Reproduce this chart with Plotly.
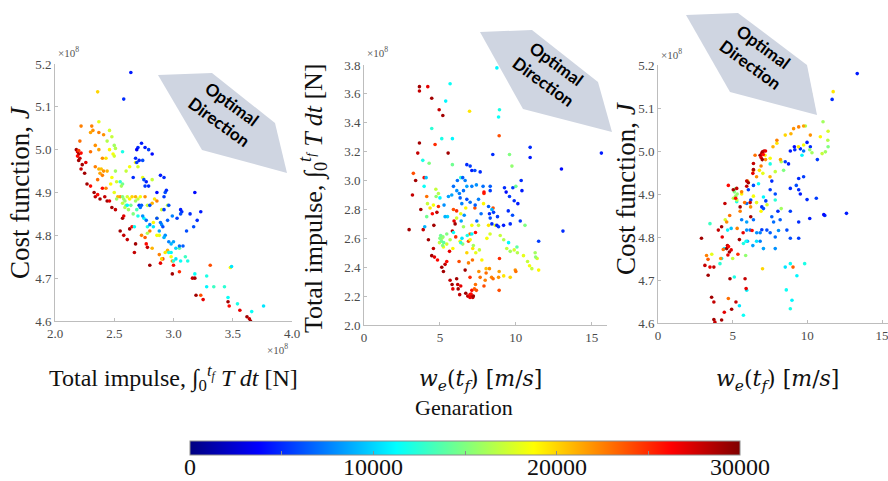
import plotly.graph_objects as go

W, H = 888, 481

# ---- Panel 1: total impulse (x1e8 N) vs cost function J (x1e8), coloured by generation
p1_impulse = [
    2.18, 2.19, 2.20, 2.19, 2.21, 2.20, 2.22, 2.23, 2.22, 2.25, 2.26, 2.27, 2.30, 2.33, 2.34, 2.36, 2.38, 2.40,
    2.42, 2.44, 2.46, 2.48, 2.51, 2.57, 2.58, 2.55, 2.58, 2.63, 2.65, 2.61, 2.68, 2.67, 2.77, 2.78, 2.80, 2.89,
    2.91, 2.99, 3.00, 3.05, 3.16, 3.18, 3.19, 3.23, 3.25, 3.31, 3.46, 3.47, 3.56, 3.62, 3.64, 3.65,
    2.36, 2.37, 2.22, 2.31, 2.32, 2.30, 2.46, 2.48, 2.41, 2.37, 2.44, 2.50, 2.51, 2.21, 2.34, 2.37, 2.46, 2.49,
    2.50, 2.43, 2.40, 2.30, 2.20, 2.34, 2.37, 2.39, 2.38, 2.41, 2.44, 2.40, 2.36, 2.51, 2.48, 2.43, 2.47, 2.50,
    2.52, 2.55, 2.53, 2.60, 2.63, 2.68, 2.70, 2.74, 2.82,
    2.57, 2.58, 2.59, 2.57, 2.60, 2.59, 2.61, 2.52, 2.63, 2.65, 2.68, 2.70, 2.72, 2.68, 2.64, 2.62, 2.66, 2.69,
    2.76, 2.78, 2.82, 2.84, 2.86, 2.90, 2.95, 2.83, 2.86, 2.80, 2.82, 2.73, 2.76, 2.88, 2.93, 2.95, 2.90, 2.88,
    2.98, 2.99, 3.05, 3.48, 2.78, 2.86, 2.57, 2.56,
    2.57, 2.55, 2.67, 2.75, 2.78, 2.83, 2.98, 3.00, 3.02, 3.06, 3.10, 3.12, 3.18, 3.28, 3.28, 3.34, 3.43, 3.46,
    3.49, 3.54, 3.66, 3.76, 2.96, 3.02, 2.61, 2.70,
    2.64, 2.58, 2.73, 2.70, 2.69, 2.76, 2.79, 2.82, 2.68, 2.71, 2.74, 2.69, 2.66, 2.75, 2.77, 2.76, 2.79, 2.89,
    2.92, 2.86, 2.93, 2.94, 2.92, 2.71, 2.73, 2.72, 2.80, 2.92, 2.96, 3.06, 3.07, 3.06, 3.14, 3.18, 3.23, 3.20,
    3.17, 3.03, 2.99, 2.95, 2.90, 2.89, 2.91, 2.88, 3.11, 2.93, 2.92, 2.96, 3.00, 3.05, 3.08, 2.98, 2.86, 2.80,
    2.74, 2.77,
]
p1_cost = [
    5.000, 4.995, 4.990, 4.985, 4.980, 4.975, 4.992, 4.965, 4.955, 4.945, 4.970, 4.920, 4.915, 4.900, 4.890,
    4.895, 4.885, 4.910, 4.890, 4.880, 4.880, 4.865, 4.860, 4.840, 4.845, 4.810, 4.800, 4.815, 4.820, 4.790,
    4.780, 4.760, 4.780, 4.772, 4.730, 4.735, 4.745, 4.710, 4.730, 4.715, 4.700, 4.700, 4.660, 4.660, 4.650,
    4.730, 4.645, 4.635, 4.625, 4.610, 4.605, 4.600,
    5.135, 5.065, 5.055, 5.055, 5.045, 5.040, 5.045, 5.030, 5.035, 5.040, 5.020, 5.010, 5.003, 5.020, 5.010,
    5.000, 5.000, 4.990, 4.985, 4.980, 4.980, 4.995, 4.998, 4.960, 4.955, 4.955, 4.945, 4.950, 4.950, 4.940,
    4.930, 4.950, 4.935, 4.910, 4.920, 4.900, 4.925, 4.890, 4.890, 4.950, 4.960, 4.970, 4.960, 4.935, 4.930,
    4.890, 4.885, 4.880, 4.875, 4.870, 4.865, 4.890, 4.885, 4.885, 4.890, 4.890, 4.885, 4.890, 4.880, 4.870,
    4.860, 4.850, 4.860, 4.890, 4.870, 4.875, 4.885, 4.880, 4.860, 4.870, 4.830, 4.840, 4.810, 4.770, 4.800,
    4.795, 4.800, 4.760, 4.765, 4.745, 4.755, 4.750, 4.740, 4.770, 4.725, 4.805, 4.800, 4.920, 4.915,
    4.995, 4.925, 4.820, 4.840, 4.820, 4.820, 4.760, 4.740, 4.770, 4.740, 4.750, 4.740, 4.710, 4.705, 4.680,
    4.680, 4.680, 4.655, 4.727, 4.640, 4.622, 4.635, 4.760, 4.745, 4.870, 4.845,
    5.180, 5.118, 5.015, 5.005, 5.000, 5.005, 5.000, 4.990, 4.980, 4.975, 4.975, 4.970, 4.935, 4.930, 4.925,
    4.915, 4.915, 4.940, 4.935, 4.900, 4.900, 4.905, 4.890, 4.870, 4.870, 4.865, 4.870, 4.860, 4.870, 4.860,
    4.855, 4.850, 4.850, 4.900, 4.855, 4.835, 4.820, 4.840, 4.845, 4.835, 4.825, 4.830, 4.820, 4.810, 4.810,
    4.800, 4.795, 4.785, 4.785, 4.775, 4.775, 4.780, 4.840, 4.825, 4.845, 4.835,
]
p1_gen = [
    29000, 27000, 29000, 26000, 28000, 29000, 26000, 29000, 28000, 29000, 27000, 29000, 26000, 29000, 28000,
    26000, 29000, 26000, 28000, 29000, 27000, 29000, 28000, 29000, 27000, 29000, 28000, 29000, 26000, 28000,
    29000, 28000, 26000, 28000, 29000, 27000, 25000, 29000, 26000, 25000, 28000, 29000, 29000, 24000, 27000,
    24000, 29000, 26000, 27000, 29000, 28000, 29000,
    20000, 18000, 22500, 22500, 22000, 21500, 17500, 17000, 22000, 22500, 16500, 16000, 16500, 23000, 22000,
    21500, 19000, 18500, 17500, 19500, 22000, 23000, 24500, 22500, 21000, 20500, 21500, 22000, 21000, 22500,
    23000, 16000, 18500, 22500, 19000, 18000, 17500, 22000, 21000, 17000, 18500, 19000, 17500, 18000, 17000,
    15000, 16000, 15500, 17000, 15000, 16500, 17500, 16000, 19000, 20000, 21000, 17000, 18500, 16000, 14500,
    16000, 15000, 13500, 22000, 17000, 21000, 19500, 22500, 17500, 16500, 19000, 17500, 22500, 21000, 22500,
    23500, 18000, 19500, 21000, 20000, 22500, 18500, 22000, 14000, 19000, 16500, 18500, 14500, 16000,
    12000, 12500, 11500, 11000, 12000, 10500, 11000, 12500, 10000, 11500, 13000, 12000, 11500, 12000, 11000,
    13000, 12500, 11500, 10500, 12000, 11500, 10500, 12000, 10500, 11000, 12000,
    4500, 5000, 4500, 5000, 3500, 4500, 5500, 4000, 5000, 4500, 6000, 5500, 5000, 6000, 4500,
    5500, 5000, 4500, 5000, 4000, 6000, 5000, 5500, 5000, 6500, 7000, 6000, 5500, 6000, 4500,
    5000, 6000, 5000, 4000, 4500, 5000, 6000, 5500, 7500, 6500, 8000, 7000, 6000, 8500, 6000,
    8000, 9000, 7500, 8500, 7000, 6500, 9000, 6000, 7500, 8000, 7000,
]

# ---- Panel 2: exhaust-velocity error w_e(t_f) [m/s] vs total impulse (x1e8 N)
p2_we = [
    2.97, 3.65, 3.65, 4.20, 4.46, 4.95, 5.19, 3.65, 3.54, 3.40, 3.19, 3.74, 3.90, 4.60, 4.80, 4.50, 4.24, 4.57,
    4.46, 4.64, 4.84, 5.12, 5.34, 5.23, 5.67, 5.80, 5.85, 6.10, 6.17, 6.20, 6.30, 6.37, 6.70, 6.83, 6.98, 7.10,
    7.16, 6.98, 7.20, 7.05, 6.66, 5.82, 5.93, 6.00, 5.54, 4.68, 3.25, 3.96, 4.13, 4.90, 5.89, 6.10, 7.30, 7.90,
    7.90, 8.50, 8.90, 7.90, 8.04, 8.40, 8.50, 8.86, 8.90, 8.92, 9.96, 10.00, 6.98, 7.10, 7.27, 7.40, 7.34, 5.45,
    5.63, 6.04, 6.26, 7.14, 6.88, 7.56, 7.65, 7.98, 8.26, 8.90, 6.88, 6.98, 7.34,
    6.95, 7.87, 8.09, 8.30, 8.64, 8.97, 9.20, 9.40, 9.63, 9.89, 10.10, 10.50, 10.77, 11.27, 11.40, 11.30, 10.90,
    11.05, 11.50, 9.63, 9.20, 8.04, 7.76, 7.36, 7.60, 7.16, 6.77, 6.33, 6.99, 4.97, 5.12, 5.23, 5.45, 5.67,
    5.85, 4.57, 4.35, 4.18, 4.73, 4.90, 6.37, 6.70, 6.10, 6.55, 7.10, 7.54, 8.20, 5.00, 5.10, 5.20, 5.25, 5.18,
    5.05, 4.75, 4.13, 4.29, 5.82, 9.58, 9.74, 10.00, 10.60, 10.07, 6.50, 7.20, 5.45,
    3.96, 3.87, 4.46, 5.38, 5.67, 5.12, 5.82, 6.37, 8.75, 8.86, 8.92, 9.52, 5.89, 6.37, 7.10, 6.80, 6.45, 4.09,
    4.00, 8.42, 5.00, 5.50,
    10.94, 10.94, 13.00, 15.63, 13.10, 11.50, 10.35, 10.40, 9.80, 9.25, 9.36, 9.58, 9.89, 10.13, 9.50, 9.78,
    10.29, 9.63, 9.19, 8.79, 8.31, 8.26, 8.53, 8.20, 7.71, 8.42, 8.75, 8.86, 6.77, 6.99, 7.10, 7.30, 7.65, 8.31,
    8.48, 7.10, 7.40, 7.84, 8.31, 5.89, 6.11, 6.28, 5.78, 6.15, 6.50, 6.66, 6.77, 6.55, 6.33, 6.44, 6.77, 6.99,
    7.32, 7.54, 6.60, 6.40, 7.43, 5.34, 5.27, 5.56,
]
p2_impulse = [
    2.66, 3.65, 3.62, 3.65, 3.57, 3.49, 3.45, 3.26, 3.19, 3.00, 2.90, 2.80, 2.66, 2.69, 2.78, 2.77, 2.59, 2.53,
    2.48, 2.47, 2.45, 2.40, 2.42, 2.37, 2.31, 2.28, 2.25, 2.32, 2.28, 2.25, 2.21, 2.27, 2.22, 2.20, 2.21, 2.20,
    2.19, 2.19, 2.20, 2.215, 2.38, 2.65, 2.72, 2.70, 3.19, 3.25, 3.05, 3.02, 2.89, 2.82, 2.80, 2.79, 2.81, 2.91,
    2.92, 2.81, 3.31, 2.27, 2.36, 2.33, 2.32, 2.33, 2.24, 2.46, 2.38, 2.37, 2.33, 2.24, 2.25, 2.24, 2.28, 2.44,
    2.51, 2.61, 2.44, 2.45, 2.43, 2.37, 2.33, 2.31, 2.39, 2.37, 2.58, 2.63, 2.64,
    3.48, 2.84, 2.60, 2.63, 2.69, 2.62, 2.59, 2.53, 2.51, 2.52, 2.50, 2.48, 2.44, 2.50, 2.46, 2.47, 2.41,
    2.39, 2.38, 2.33, 2.34, 2.39, 2.45, 2.50, 2.52, 2.53, 2.50, 2.58, 2.59, 2.57, 2.60, 2.54, 2.56, 2.59,
    2.53, 2.83, 2.81, 2.84, 2.94, 2.91, 2.77, 2.81, 2.74, 2.68, 2.69, 2.69, 2.69, 2.60, 2.58, 2.61, 2.57, 2.55,
    2.62, 2.89, 2.75, 3.12, 3.11, 3.18, 3.10, 2.96, 2.69, 2.54, 2.56, 2.55, 2.63,
    2.96, 3.14, 3.36, 3.55, 3.67, 3.29, 3.29, 3.02, 3.78, 3.44, 3.49, 2.57, 2.64, 2.57, 2.63, 2.62, 2.60, 3.02,
    2.68, 2.80, 2.88, 2.75,
    3.23, 3.16, 3.08, 3.19, 2.65, 2.58, 3.00, 2.93, 2.95, 2.95, 2.92, 2.89, 2.86, 2.84, 2.79, 2.76,
    2.72, 2.70, 2.69, 2.75, 2.74, 2.77, 2.78, 2.82, 2.77, 2.70, 2.69, 2.68, 3.11, 3.10, 3.07, 3.07, 3.06, 2.93,
    3.18, 2.96, 2.97, 2.96, 2.96, 2.96, 2.93, 2.91, 2.90, 3.00, 3.02, 3.00, 2.96, 2.93, 2.88, 2.84, 2.87, 2.85,
    2.83, 2.87, 2.76, 2.72, 2.72, 2.75, 2.83, 2.89,
]
p2_gen = [
    29000, 29000, 28000, 27000, 29000, 28000, 29000, 29000, 28000, 29000, 28000, 29000, 28000, 29000, 28000,
    26000, 29000, 28000, 29000, 27000, 26000, 29000, 28000, 29000, 28000, 29000, 27000, 29000, 28000, 29000,
    28000, 27000, 29000, 28000, 26000, 29000, 28000, 27000, 29000, 26000, 29000, 28000, 27000, 29000, 29000,
    25000, 24000, 26000, 23000, 25000, 24000, 25000, 24000, 25000, 26000, 24000, 24000, 24000, 23000, 22500,
    23000, 22000, 24000, 25000, 22000, 23000, 25000, 26000, 23500, 24000, 23000, 26000, 27000, 25000, 24000,
    23000, 22500, 22000, 23000, 22500, 22000, 21500, 24000, 23000, 26000,
    19500, 19000, 18500, 17500, 18000, 17000, 16500, 17000, 16000, 17500, 16500, 18000, 17000, 16000, 17500,
    15500, 18500, 17000, 19000, 20000, 19500, 20500, 19000, 18000, 17000, 19500, 20000, 19000, 18500, 17000,
    16000, 18500, 17500, 16500, 19000, 18500, 19500, 17000, 17000, 16500, 18000, 19000, 17500, 16000, 18500,
    17000, 19500, 15000, 14500, 15500, 14000, 15000, 14500, 15500, 14500, 15000, 14500, 15000, 15500, 14500,
    15000, 14000, 15500, 16000, 15000,
    11500, 12000, 12500, 11000, 11500, 12000, 11000, 12500, 11000, 11500, 12000, 11000, 11500, 12500, 11000,
    12000, 10500, 9500, 9000, 9000, 11000, 10000,
    5000, 4500, 4000, 4500, 5000, 5500, 5000, 4500, 5500, 5000, 4000, 5500, 5000, 4500, 5000, 6000,
    5500, 5000, 4500, 5500, 6000, 5000, 5500, 6500, 7000, 5000, 4500, 5500, 5000, 5500, 4500, 6000, 5000, 5500,
    5000, 7500, 8000, 7000, 6500, 7000, 8000, 7500, 8500, 7000, 6500, 7500, 8500, 7000, 6500, 7500, 6000, 7000,
    6500, 7500, 8000, 8500, 7000, 9000, 8000, 8500,
]

# ---- Panel 3: w_e(t_f) [m/s] vs cost function J (x1e8)
p3_we = [
    13.34, 11.66, 12.62, 11.17, 11.10, 10.60, 9.98, 9.53, 9.75, 9.42, 9.26, 8.86, 8.74, 8.52, 9.13, 9.16, 9.98,
    10.20, 10.67, 9.75, 9.53, 8.86, 7.62, 7.51, 7.85, 8.03, 8.86, 9.42, 10.16, 8.63, 8.18, 7.74, 7.29, 6.95,
    6.84, 7.51, 7.85, 8.07, 8.86, 9.42, 7.06, 7.85, 6.39, 6.05, 5.94, 6.21, 5.60, 5.94, 6.39, 6.95, 7.06, 7.22,
    5.94, 6.17, 6.61, 5.99, 6.35, 6.84, 7.62, 9.42,
    9.30, 9.82, 8.86, 8.52, 8.97, 8.86, 8.59, 5.94, 5.11, 5.72, 5.45, 4.66, 5.72, 5.90, 4.44, 4.26, 4.15, 3.48,
    5.27, 7.06, 7.85, 6.73, 7.51, 9.64, 4.90, 6.60,
    5.11, 5.20, 5.15, 5.30, 5.05, 5.18, 5.28, 5.87, 8.25, 9.87, 10.16, 10.31, 10.99, 11.21, 11.39, 11.37, 11.39,
    11.05, 8.41, 8.25, 7.85, 10.20, 11.73, 10.87, 9.75, 9.40, 8.52, 7.96, 7.51, 7.17, 7.02, 6.79, 6.39, 5.60,
    6.60, 7.30, 6.90, 7.00, 4.50, 3.60, 5.00,
    9.08, 9.42, 9.75, 10.20, 8.90, 7.96, 7.70, 7.20, 6.90, 6.39, 6.60, 6.00, 5.60, 5.80, 6.20, 5.50, 4.80, 4.60,
    5.30, 4.37, 3.25, 3.35, 4.20, 4.71, 9.04, 8.20, 6.50, 7.50,
    2.91, 3.14, 3.36, 3.48, 3.74, 3.59, 3.74, 3.74, 3.81, 4.26, 4.44, 4.04, 4.26, 4.30, 4.48, 4.71, 5.04, 5.27,
    4.60, 4.65, 4.72, 4.78, 4.68, 4.82, 5.22, 4.93, 5.83, 5.90, 5.45, 5.94, 6.05, 6.35, 6.39, 6.39, 6.84, 6.90,
    6.95, 7.00, 7.05, 7.10, 7.20, 6.98, 6.17, 6.21, 5.70, 6.30, 5.50, 5.20, 5.94, 4.90, 5.35,
]
p3_cost = [
    5.180, 5.120, 4.855, 4.850, 4.852, 4.890, 4.887, 4.900, 4.940, 4.936, 4.920, 4.913, 4.970, 4.975, 5.010,
    5.003, 5.020, 5.010, 4.980, 5.000, 5.005, 5.000, 4.930, 4.910, 4.900, 4.860, 4.860, 4.835, 4.843, 4.816,
    4.840, 4.835, 4.816, 4.817, 4.810, 4.810, 4.800, 4.815, 4.797, 4.797, 4.773, 4.773, 4.920, 4.910, 4.878,
    4.886, 4.840, 4.835, 4.840, 4.870, 4.866, 4.884, 4.816, 4.816, 4.810, 4.790, 4.780, 4.790, 4.847, 4.910,
    4.710, 4.738, 4.738, 4.730, 4.653, 4.633, 4.677, 4.676, 4.707, 4.618, 4.640, 4.816, 4.785, 4.790, 4.773,
    4.750, 4.738, 4.831, 4.882, 4.893, 4.886, 4.924, 4.970, 4.990, 4.820, 4.790,
    4.905, 4.895, 4.890, 4.900, 4.890, 4.912, 4.886, 4.757, 4.866, 5.058, 5.003, 4.996, 4.994, 4.998, 5.010,
    5.025, 5.046, 5.068, 4.955, 4.975, 4.952, 5.134, 5.138, 5.033, 5.014, 5.010, 5.037, 5.018, 4.983, 4.990,
    4.948, 4.955, 4.895, 4.900, 4.880, 4.875, 4.860, 4.726, 4.840, 4.760, 4.750,
    5.052, 5.056, 5.058, 5.037, 5.040, 5.025, 5.010, 4.980, 4.965, 4.955, 4.940, 4.930, 4.905, 4.880, 4.870,
    4.860, 4.850, 4.835, 4.820, 4.771, 4.757, 4.748, 4.750, 4.657, 4.730, 4.980, 4.990, 4.940,
    4.797, 4.734, 4.711, 4.730, 4.730, 4.660, 4.649, 4.608, 4.602, 4.607, 4.625, 4.816, 4.824, 4.800, 4.878,
    4.920, 4.910, 4.913, 4.773, 4.780, 4.778, 4.765, 4.758, 4.703, 4.649, 4.632, 4.703, 4.680, 4.794, 4.918,
    4.926, 4.948, 4.957, 4.971, 4.990, 4.985, 4.995, 4.998, 4.992, 5.000, 5.000, 4.980, 4.880, 4.847, 4.810,
    4.815, 4.870, 4.890, 4.930, 4.770, 4.760,
]
p3_gen = [
    4500, 5000, 4500, 5000, 4000, 5500, 5000, 4500, 5500, 5000, 6000, 5000, 4500, 5500, 4000, 5000, 4500,
    5000, 5500, 7000, 5000, 4500, 5000, 5500, 6000, 5000, 5500, 5000, 4500, 6000, 6500, 7000, 6000, 5500,
    7500, 6500, 7000, 8000, 6000, 5500, 8500, 8000, 6000, 5500, 7000, 6000, 7500, 8500, 7000, 5000, 6000, 5500,
    8000, 7500, 8000, 9000, 8500, 7500, 6500, 5000,
    11000, 12000, 11500, 10500, 11000, 12000, 11500, 11000, 12000, 11500, 10500, 11000, 12000, 11500, 10500,
    11000, 12500, 13000, 12000, 11000, 12500, 11500, 12000, 11000, 9500, 10500,
    15000, 16000, 14500, 15500, 16500, 15000, 17000, 15500, 16000, 16500, 15500, 16000, 17000, 16000, 15000,
    16500, 17500, 16000, 15000, 16500, 17000, 19000, 19500, 19000, 18500, 19500, 20000, 19500, 18500, 19000,
    18000, 19500, 18500, 19000, 18000, 17500, 19000, 20000, 17500, 18000, 17000,
    22000, 22500, 21500, 22000, 21000, 22500, 21000, 22000, 22500, 23000, 22000, 21500, 22500, 23000, 22000,
    22500, 23000, 22000, 22500, 23000, 22500, 23500, 22000, 23000, 23500, 21500, 23000, 21000,
    29000, 28000, 29000, 27000, 28000, 29000, 28000, 29000, 28000, 29000, 27000, 28000, 29000, 27000, 28000,
    26000, 29000, 28000, 29000, 28000, 26000, 29000, 27000, 29000, 28000, 29000, 28000, 27000, 29000, 28000,
    29000, 27000, 29000, 28000, 29000, 27000, 28000, 29000, 26000, 28000, 27000, 29000, 28000, 29000, 27000,
    26000, 29000, 26000, 28000, 27000, 25000,
]

# Generation colour scale: tick marks every 5000, labels every 10000
gen_ticks = [0, 5000, 10000, 15000, 20000, 25000, 30000]
gen_labels = [0, 10000, 20000, 30000]
GEN_MAX = 30000

# MATLAB-style jet colour map
JET = [
    [0.0, "rgb(0,0,128)"],
    [0.125, "rgb(0,0,255)"],
    [0.375, "rgb(0,255,255)"],
    [0.625, "rgb(255,255,0)"],
    [0.875, "rgb(255,0,0)"],
    [1.0, "rgb(128,0,0)"],
]

SERIF = "Liberation Serif, Times New Roman, serif"
MATH = "DejaVu Serif, serif"
AXIS_GREY = "#bdbdbd"
TICK_FONT = dict(family=SERIF, size=13, color="#4a4a4a")

# colour bar geometry (pixels)
CB_LEFT, CB_RIGHT, CB_TOP = 190, 740, 441


def px_x(p):
    return p / W


def px_y(p):
    return 1 - p / H


def scatter(x, y, gen, xa, ya, show):
    marker = dict(
        size=3.6,
        color=gen,
        colorscale=JET,
        cmin=0,
        cmax=GEN_MAX,
        line=dict(width=0),
        showscale=show,
    )
    if show:
        marker["colorbar"] = dict(
            orientation="h",
            x=px_x((CB_LEFT + CB_RIGHT) / 2),
            xanchor="center",
            y=px_y(CB_TOP),
            yanchor="top",
            len=CB_RIGHT - CB_LEFT,
            lenmode="pixels",
            thickness=14,
            thicknessmode="pixels",
            xpad=0,
            ypad=0,
            outlinewidth=1,
            outlinecolor="#8c8c8c",
            tickvals=gen_ticks,
            ticks="inside",
            ticklen=4,
            tickcolor="#8c8c8c",
            showticklabels=False,
        )
    return go.Scatter(x=x, y=y, mode="markers", marker=marker, xaxis=xa, yaxis=ya,
                      showlegend=False, hoverinfo="skip")


fig = go.Figure()
fig.add_trace(scatter(p1_impulse, p1_cost, p1_gen, "x", "y", True))
fig.add_trace(scatter(p2_we, p2_impulse, p2_gen, "x2", "y2", False))
fig.add_trace(scatter(p3_we, p3_cost, p3_gen, "x3", "y3", False))


def axis(domain, rng, tickvals, fmt, anchor):
    return dict(
        domain=domain,
        range=rng,
        tickvals=tickvals,
        tickformat=fmt,
        anchor=anchor,
        showline=True,
        linecolor=AXIS_GREY,
        linewidth=1,
        ticks="inside",
        ticklen=3,
        tickcolor=AXIS_GREY,
        showgrid=False,
        zeroline=False,
        tickfont=TICK_FONT,
        fixedrange=True,
        automargin=False,
        ticklabeloverflow="allow",
    )


cost_ticks = [4.6, 4.7, 4.8, 4.9, 5.0, 5.1, 5.2]
impulse_ticks = [2.0, 2.5, 3.0, 3.5, 4.0]
impulse_ticks_2 = [2.0, 2.2, 2.4, 2.6, 2.8, 3.0, 3.2, 3.4, 3.6, 3.8]
we_ticks = [0, 5, 10, 15]

fig.update_layout(
    width=W,
    height=H,
    margin=dict(l=0, r=0, t=0, b=0, autoexpand=False),
    paper_bgcolor="white",
    plot_bgcolor="rgba(0,0,0,0)",
    xaxis=axis([px_x(55), px_x(292)], [2.0, 4.0], impulse_ticks, ".1f", "y"),
    yaxis=axis([px_y(321), px_y(64)], [4.6, 5.2], cost_ticks, ".1f", "x"),
    xaxis2=axis([px_x(364), px_x(607)], [0, 16], we_ticks, "d", "y2"),
    yaxis2=axis([px_y(325), px_y(65)], [2.0, 3.8], impulse_ticks_2, ".1f", "x2"),
    xaxis3=axis([px_x(658), 1.0], [0, 15.4], we_ticks, "d", "y3"),
    yaxis3=axis([px_y(323), px_y(65)], [4.6, 5.2], cost_ticks, ".1f", "x3"),
)

IMPULSE_LABEL = "Total impulse, ∫<sub>0</sub><sup><i>t<sub>f</sub></i></sup> <i>T dt</i> [N]"
COST_LABEL = "Cost function, <i>J</i>"
WE_LABEL = "<i>w<sub>e</sub></i>(<i>t<sub>f</sub></i>) [<i>m</i>/<i>s</i>]"


def note(text, x, y, size, angle=0, color="#111", family=SERIF, xanchor="center",
         yanchor="middle"):
    fig.add_annotation(
        text=text, x=px_x(x), y=px_y(y), xref="paper", yref="paper",
        showarrow=False, textangle=angle, xanchor=xanchor, yanchor=yanchor,
        borderpad=0, font=dict(family=family, size=size, color=color),
    )


# axis titles
note(COST_LABEL, 20, 192, 27, angle=-90)
note(IMPULSE_LABEL, 313, 198, 26, angle=-90)
note(COST_LABEL, 626, 188, 27, angle=-90)
note(IMPULSE_LABEL, 173, 378, 24)
note(WE_LABEL, 481, 380, 22, family=MATH)
note(WE_LABEL, 777, 380, 22, family=MATH)

# exponent markers
EXP = "×10<sup>8</sup>"
note(EXP, 57, 52, 11, color="#555", xanchor="left")
note(EXP, 366, 52, 11, color="#555", xanchor="left")
note(EXP, 660, 54, 11, color="#555", xanchor="left")
note(EXP, 266, 349, 11, color="#555", xanchor="left")

# colour bar title and labels
note("Genaration", 464, 407, 22)
for g in gen_labels:
    note(f"{g}", CB_LEFT + (CB_RIGHT - CB_LEFT) * g / GEN_MAX, H, 24, yanchor="bottom")

# "Optimal Direction" arrows
ARROW_FILL = "#cfd5e1"
arrows = [
    [(158, 75), (212, 73), (275, 123), (287, 173), (202, 150)],
    [(480, 32), (532, 30), (598, 82), (612, 132), (523, 109)],
    [(686, 15), (738, 13), (807, 65), (817, 115), (730, 92)],
]
arrow_text_pos = [(225, 113), (550, 72), (757, 55)]

for poly in arrows:
    path = "M " + " L ".join(f"{px_x(a):.5f},{px_y(b):.5f}" for a, b in poly) + " Z"
    fig.add_shape(type="path", path=path, xref="paper", yref="paper",
                  fillcolor=ARROW_FILL, line=dict(width=0), layer="above")

for (tx, ty) in arrow_text_pos:
    note("<b>Optimal<br>Direction</b>", tx, ty, 17, angle=36, color="#000", family="Lato")

fig.write_html("out.html")
